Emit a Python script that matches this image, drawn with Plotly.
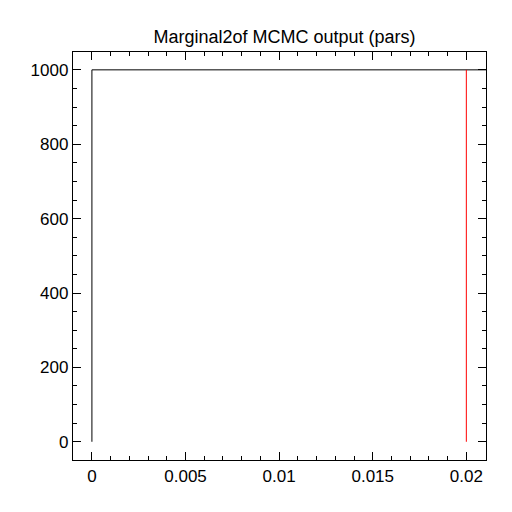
import plotly.graph_objects as go

# marginal trace (step) and the reference value
step_x = [0, 0, 0.025]
step_y = [0, 1000, 1000]
ref_x = [0.02, 0.02]
ref_y = [0, 1000]

x_ticks = [0, 0.005, 0.01, 0.015, 0.02]
x_labels = ["0", "0.005", "0.01", "0.015", "0.02"]
y_ticks = [0, 200, 400, 600, 800, 1000]

fig = go.Figure()
fig.add_trace(go.Scatter(x=step_x, y=step_y, mode="lines",
                         line=dict(color="black", width=1), showlegend=False))
fig.add_trace(go.Scatter(x=ref_x, y=ref_y, mode="lines",
                         line=dict(color="red", width=1), showlegend=False))

axis_style = dict(
    showline=True, linecolor="black", linewidth=1.3, mirror="allticks",
    ticks="inside", ticklen=8, tickcolor="black", tickwidth=1,
    showgrid=False, zeroline=False,
    tickfont=dict(family="Liberation Sans, Arial", size=17, color="black"),
)

fig.update_xaxes(
    range=[-0.00101, 0.02105], tickvals=x_ticks, ticktext=x_labels,
    minor=dict(dtick=0.001, ticklen=4, tickcolor="black", ticks="inside", showgrid=False),
    **axis_style,
)
fig.update_yaxes(
    range=[-49, 1048], tickvals=y_ticks,
    minor=dict(dtick=50, ticklen=4, tickcolor="black", ticks="inside", showgrid=False),
    **axis_style,
)

# the page adds an 8px body margin, so margins are shifted to compensate
fig.update_layout(
    width=512, height=512,
    margin=dict(l=65, r=34, t=44, b=60),
    plot_bgcolor="white", paper_bgcolor="white",
    title=dict(text="Marginal2of MCMC output (pars)", x=0.54, xanchor="center",
               y=0.943, yanchor="middle",
               font=dict(family="Liberation Sans, Arial", size=18, color="black")),
)

fig.write_html("out.html")
